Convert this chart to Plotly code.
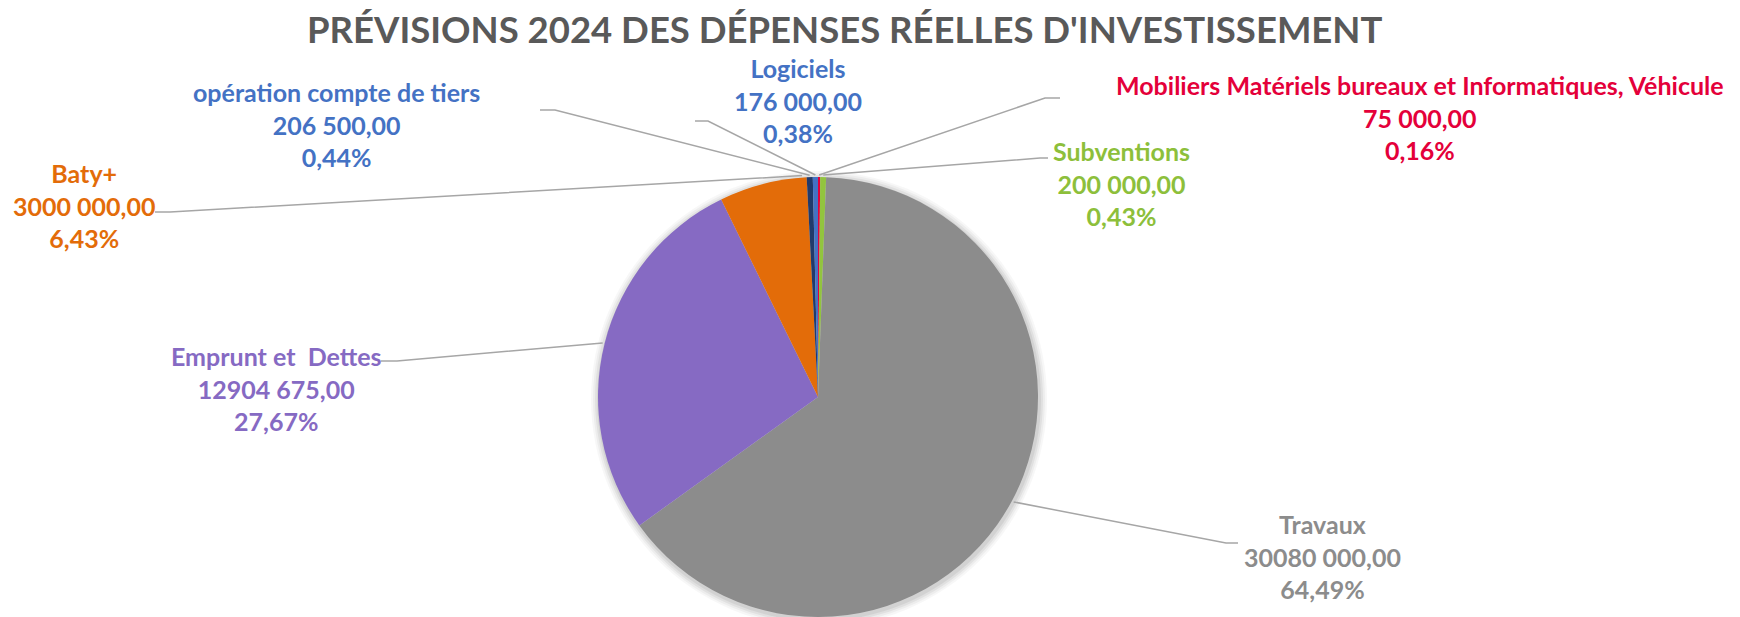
import math
import plotly.graph_objects as go

# ---------------- data ----------------
categories = [
    "Mobiliers Matériels bureaux et Informatiques, Véhicule",
    "Subventions",
    "Travaux",
    "Emprunt et  Dettes",
    "Baty+",
    "opération compte de tiers",
    "Logiciels",
]
values = [75000, 200000, 30080000, 12904675, 3000000, 206500, 176000]
slice_colors = ["#E4003A", "#92C43E", "#8C8C8C", "#866AC3", "#E36C09", "#213A6B", "#4472C4"]
label_colors = ["#E4003A", "#8DBF3B", "#8C8C8C", "#866AC3", "#E36C09", "#4472C4", "#4472C4"]
title_text = "PRÉVISIONS 2024 DES DÉPENSES RÉELLES D'INVESTISSEMENT"

# ---------------- layout constants (pixels) ----------------
W, H = 1740, 617
CX, CY, R = 818, 397, 220
FONT = "Lato"
LABEL_SIZE = 25
TITLE_SIZE = 36.5

# label placement: (center x, middle line y, leader start x, leader bend x, leader y, anchor fraction in slice)
label_layout = [
    (1420, 117, 1060, 1045, 98, 0.5),
    (1121, 183, 1048, 1040, 158, 0.5),
    (1322, 556, 1238, 1226, 543, 0.5),
    (276, 388, 381, 397, 361, 0.5),
    (84, 205, 155, 170, 212, 0.95),
    (336, 124, 540, 555, 110, 0.5),
    (798, 100, 695, 708, 121, 0.5),
]


def fmt_value(v):
    thousands, rest = divmod(int(v), 1000)
    if thousands:
        return f"{thousands} {rest:03d},00"
    return f"{rest},00"


def fmt_pct(p):
    return f"{p:.2f}".replace(".", ",") + "%"


total = sum(values)
fig = go.Figure()

# invisible pixel-space axes for leader lines and shadow
fig.update_layout(
    xaxis=dict(range=[0, W], visible=False, domain=[0, 1], fixedrange=True),
    yaxis=dict(range=[H, 0], visible=False, domain=[0, 1], fixedrange=True),
)

# soft shadow behind the pie
shapes = []
for dr, op in [(8, 0.03), (6, 0.04), (4, 0.05), (2, 0.06)]:
    shapes.append(dict(type="circle", xref="x", yref="y", layer="below",
                       x0=CX + 1 - R - dr, x1=CX + 1 + R + dr,
                       y0=CY + 2 - R - dr, y1=CY + 2 + R + dr,
                       fillcolor=f"rgba(0,0,0,{op})", line=dict(width=0)))

# pie
fig.add_trace(go.Pie(
    labels=categories, values=values, sort=False, direction="clockwise", rotation=0,
    marker=dict(colors=slice_colors, line=dict(width=0)),
    textinfo="none", hoverinfo="label+value+percent", showlegend=False,
    domain=dict(x=[(CX - R) / W, (CX + R) / W], y=[(H - CY - R) / H, (H - CY + R) / H]),
))

# leader lines + labels
annotations = []
cum = 0.0
for cat, v, col, lay in zip(categories, values, label_colors, label_layout):
    frac = v / total
    lx, ly, sx, bx, sy, af = lay
    theta = 2 * math.pi * (cum + frac * af)
    cum += frac
    px = CX + (R + 2) * math.sin(theta)
    py = CY - (R + 2) * math.cos(theta)
    fig.add_trace(go.Scatter(x=[sx, bx, px], y=[sy, sy, py], mode="lines",
                             line=dict(color="#A6A6A6", width=1.5),
                             hoverinfo="skip", showlegend=False))
    txt = "<br>".join([cat.replace("  ", " &nbsp;"), fmt_value(v), fmt_pct(100 * frac)])
    annotations.append(dict(x=lx, y=ly, xref="x", yref="y", text=f"<b>{txt}</b>",
                            showarrow=False, xanchor="center", yanchor="middle",
                            align="center",
                            font=dict(family=FONT, size=LABEL_SIZE, color=col)))

annotations.append(dict(x=844, y=29, xref="x", yref="y", text=f"<b>{title_text}</b>",
                        showarrow=False, xanchor="center", yanchor="middle",
                        font=dict(family=FONT, size=TITLE_SIZE, color="#595959")))

fig.update_layout(
    width=W, height=H, margin=dict(l=0, r=0, t=0, b=0),
    paper_bgcolor="white", plot_bgcolor="white",
    shapes=shapes, annotations=annotations, showlegend=False,
)

fig.write_html("out.html",
               config={"displayModeBar": False},
               post_script="document.body.style.margin='0';document.body.style.padding='0';")
